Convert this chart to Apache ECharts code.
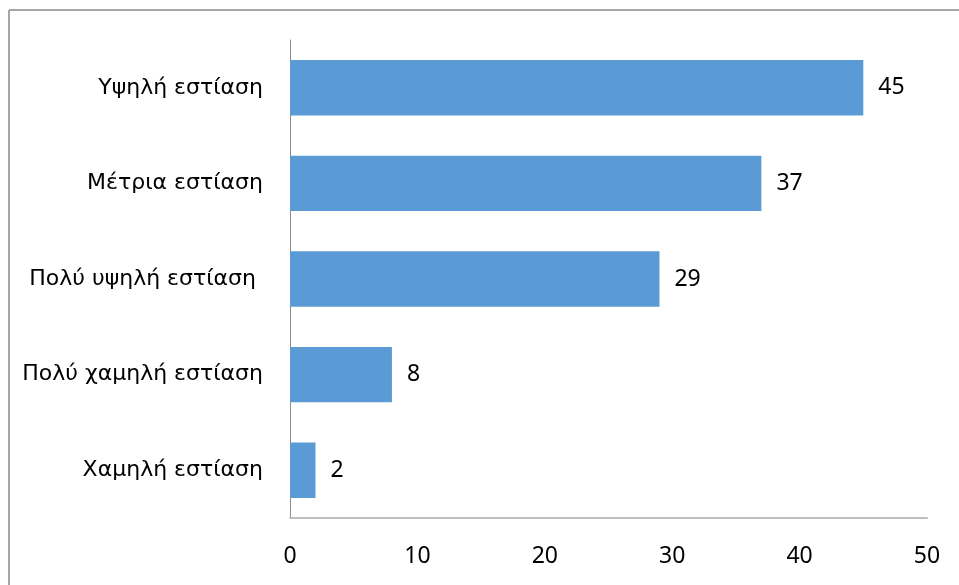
<!DOCTYPE html>
<html>
<head>
<meta charset="utf-8">
<script src="https://cdn.jsdelivr.net/npm/echarts@6/dist/echarts.min.js"></script>
<style>
html,body{margin:0;padding:0;background:#fff;}
#c{width:959px;height:585px;}
</style>
</head>
<body>
<div id="c"></div>
<script>
var categories = ['Υψηλή εστίαση', 'Μέτρια εστίαση', 'Πολύ υψηλή εστίαση ', 'Πολύ χαμηλή εστίαση', 'Χαμηλή εστίαση'];
var values = [45, 37, 29, 8, 2];
var xTicks = [0, 10, 20, 30, 40, 50];

var chart = echarts.init(document.getElementById('c'));
var catFont = 'DejaVu Sans';
var numFont = 'Noto Sans';
chart.setOption({
  animation: false,
  graphic: [
    {type: 'line', shape: {x1: 9, y1: 10, x2: 959, y2: 10}, style: {stroke: '#a6a6a6', lineWidth: 2}},
    {type: 'line', shape: {x1: 9, y1: 10, x2: 9, y2: 585}, style: {stroke: '#a6a6a6', lineWidth: 2}}
  ],
  grid: {left: 290, right: 32, top: 40, bottom: 67, containLabel: false},
  xAxis: {
    type: 'value', min: xTicks[0], max: xTicks[xTicks.length - 1], interval: 10,
    splitLine: {show: false},
    axisLine: {show: true, lineStyle: {color: '#bfbfbf', width: 2}},
    axisTick: {show: false},
    axisLabel: {color: '#000', fontSize: 23, fontFamily: numFont, margin: 27}
  },
  yAxis: {
    type: 'category', data: categories, inverse: true,
    axisLine: {show: true, lineStyle: {color: '#8c8c8c', width: 1}},
    axisTick: {show: false},
    axisLabel: {color: '#000', fontSize: 22, fontFamily: catFont, margin: 27}
  },
  series: [{
    type: 'bar', data: values, barCategoryGap: '42%',
    itemStyle: {color: '#5b9bd5'},
    label: {show: true, position: 'right', distance: 15, color: '#000', fontSize: 23, fontFamily: numFont}
  }]
});
</script>
</body>
</html>
